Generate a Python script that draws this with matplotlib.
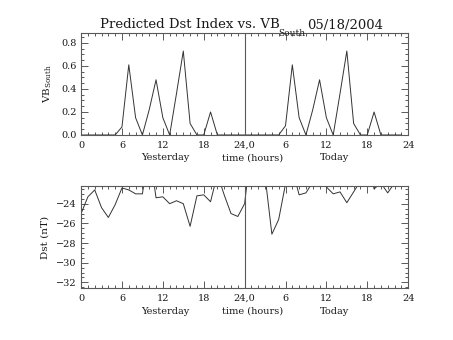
import matplotlib
matplotlib.use("Agg")
import matplotlib.pyplot as plt
from matplotlib.ticker import MultipleLocator, FixedLocator, FormatStrFormatter


# hourly values, yesterday (0-23) then today (24-47)
hours = list(range(48))

vb_yesterday = [0, 0, 0, 0, 0, 0, 0.07, 0.61, 0.15, 0, 0.22, 0.48,
                0.15, 0, 0.36, 0.73, 0.10, 0, 0, 0.20, 0, 0, 0, 0]
vb_today = [0, 0, 0, 0, 0, 0, 0.08, 0.61, 0.15, 0, 0.22, 0.48,
            0.15, 0, 0.36, 0.73, 0.10, 0, 0, 0.20, 0, 0, 0, 0]

dst_yesterday = [-25.0, -23.3, -22.6, -24.4, -25.4, -24.1, -22.4, -22.6,
                 -23.0, -23.0, -18.5, -23.4, -23.3, -24.0, -23.7, -24.0,
                 -26.3, -23.2, -23.1, -23.8, -21.0, -23.1, -25.0, -25.3]
dst_today = [-24.0, -18.0, -18.0, -21.2, -27.1, -25.6, -22.0, -20.5,
             -23.1, -22.9, -21.8, -21.5, -22.3, -23.0, -22.8, -23.9,
             -22.8, -21.7, -19.5, -22.5, -21.9, -22.9, -21.9, -21.0]

tick_pos = [0, 6, 12, 18, 24, 30, 36, 42, 48]
tick_labels = ["0", "6", "12", "18", "24,0", "6", "12", "18", "24"]

FONT = "DejaVu Serif"
LINE = "0.2"
FRAME = "0.35"
TEXT = "0.1"

plt.rcParams["font.family"] = FONT
plt.rcParams["mathtext.fontset"] = "dejavuserif"


def style_axes(ax, ymin, ymax, ymajor, yminor):
    ax.set_xlim(0, 48)
    ax.set_ylim(ymin, ymax)
    ax.xaxis.set_major_locator(FixedLocator(tick_pos))
    ax.set_xticklabels(tick_labels)
    ax.xaxis.set_minor_locator(MultipleLocator(1))
    ax.yaxis.set_major_locator(MultipleLocator(ymajor))
    ax.yaxis.set_minor_locator(MultipleLocator(yminor))
    ax.tick_params(which="both", direction="in", top=True, right=True,
                   color=FRAME, width=0.7, labelsize=7, labelcolor=TEXT)
    ax.tick_params(which="major", length=5, pad=4)
    ax.tick_params(which="minor", length=2.5)
    ax.tick_params(axis="y", pad=3)
    for s in ax.spines.values():
        s.set_color(FRAME)
        s.set_linewidth(0.8)
    ax.axvline(24, color=FRAME, lw=0.8)
    for x, txt in [(0.258, "Yesterday"), (0.524, "time (hours)"), (0.774, "Today")]:
        ax.text(x, -0.225, txt, transform=ax.transAxes, ha="center",
                va="center", fontsize=7, color=TEXT)


fig = plt.figure(figsize=(4.53, 3.4), dpi=100)

ax1 = fig.add_axes([0.179, 0.603, 0.722, 0.300])
ax1.plot(hours, vb_yesterday + vb_today, color=LINE, lw=0.7)
style_axes(ax1, 0, 0.887, 0.2, 0.05)
ax1.yaxis.set_major_formatter(FormatStrFormatter("%.1f"))
ax1.set_ylabel(r"VB$_{\mathrm{South}}$", fontsize=7.5, color=TEXT, labelpad=5)

ax2 = fig.add_axes([0.179, 0.152, 0.722, 0.301])
ax2.plot(hours, dst_yesterday + dst_today, color=LINE, lw=0.7)
style_axes(ax2, -32.6, -22.2, 2, 0.5)
ax2.set_ylabel("Dst (nT)", fontsize=7.5, color=TEXT, labelpad=5)

# title with subscript placed after the main part
title = fig.text(100 / 453, 1 - 25 / 340, "Predicted Dst Index vs. VB",
                 fontsize=9.5, ha="left", va="center", color=TEXT)
fig.canvas.draw()
bb = title.get_window_extent().transformed(fig.transFigure.inverted())
fig.text(bb.x1 - 0.004, 1 - 34 / 340, "South", fontsize=6.5, ha="left",
         va="center", color=TEXT)
fig.text(383 / 453, 1 - 25 / 340, "05/18/2004", fontsize=9.5, ha="right",
         va="center", color=TEXT)

fig.savefig("out.png", dpi=100)
